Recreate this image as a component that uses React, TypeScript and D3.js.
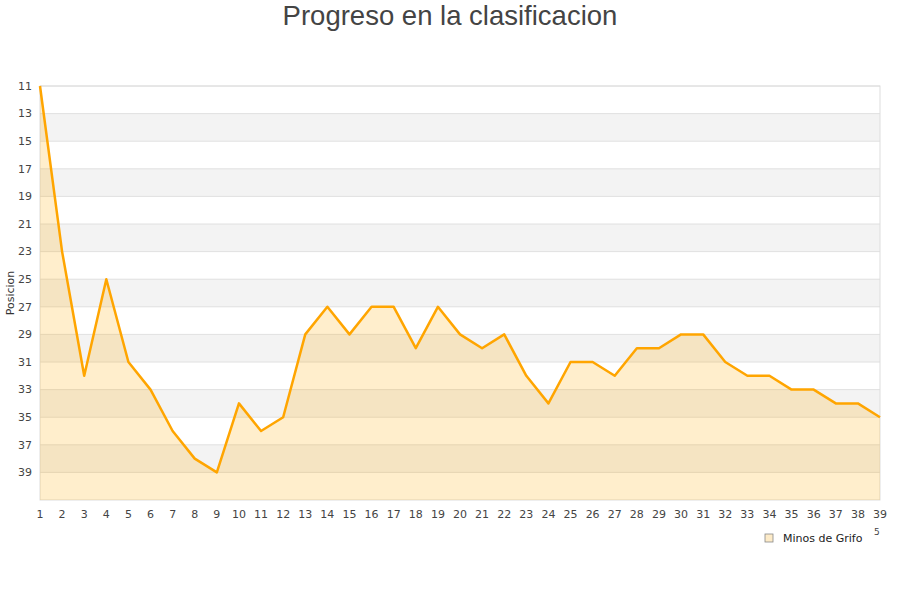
import React from 'react';
import { scaleLinear, line, area, range } from 'd3';

const jornadas = range(1, 40);
const posiciones = [
  11, 23, 32, 25, 31, 33, 36, 38, 39, 34, 36, 35, 29, 27, 29, 27, 27, 30, 27, 29,
  30, 29, 32, 34, 31, 31, 32, 30, 30, 29, 29, 31, 32, 32, 33, 33, 34, 34, 35,
];
const yTicks = [11, 13, 15, 17, 19, 21, 23, 25, 27, 29, 31, 33, 35, 37, 39];
const titulo = 'Progreso en la clasificacion';
const serie = 'Minos de Grifo';

const W = 900;
const H = 600;
const m = { left: 40, right: 880, top: 86, bottom: 500 };

export default function App() {
  const x = scaleLinear().domain([1, 39]).range([m.left, m.right]);
  const y = scaleLinear().domain([11, 41]).range([m.top, m.bottom]);

  const pts = posiciones.map((p, i) => [jornadas[i], p] as [number, number]);
  const linea = line<[number, number]>()
    .x(d => x(d[0]))
    .y(d => y(d[1]));
  const relleno = area<[number, number]>()
    .x(d => x(d[0]))
    .y0(y(41))
    .y1(d => y(d[1]));

  const font = 'DejaVu Sans, sans-serif';

  return (
    <svg
      width={W}
      height={H}
      style={{ position: 'absolute', left: 0, top: 0, background: '#fff' }}
    >
      <text
        x={W / 2}
        y={25}
        textAnchor="middle"
        fontFamily="Liberation Sans, Arial, sans-serif"
        fontSize={27.5}
        fill="#444"
      >
        {titulo}
      </text>

      {/* bandas alternas */}
      {yTicks.map((t, i) =>
        i % 2 === 1 ? (
          <rect
            key={'b' + t}
            x={m.left}
            y={y(t)}
            width={m.right - m.left}
            height={y(t + 2) - y(t)}
            fill="#f3f3f3"
          />
        ) : null
      )}
      {yTicks.map(t => (
        <line
          key={'g' + t}
          x1={m.left}
          x2={m.right}
          y1={y(t)}
          y2={y(t)}
          stroke="#e0e0e0"
          strokeWidth={1}
        />
      ))}
      <rect
        x={m.left}
        y={m.top}
        width={m.right - m.left}
        height={m.bottom - m.top}
        fill="none"
        stroke="#dddddd"
      />

      <path d={relleno(pts) ?? ''} fill="rgba(255,170,0,0.2)" />
      <path
        d={linea(pts) ?? ''}
        fill="none"
        stroke="#FFA500"
        strokeWidth={2.5}
        strokeLinejoin="round"
      />

      {yTicks.map(t => (
        <text
          key={'y' + t}
          x={32}
          y={y(t)}
          dy="0.35em"
          textAnchor="end"
          fontFamily={font}
          fontSize={11}
          fill="#444"
        >
          {t}
        </text>
      ))}
      {jornadas.map(j => (
        <text
          key={'x' + j}
          x={x(j)}
          y={518}
          textAnchor="middle"
          fontFamily={font}
          fontSize={11}
          fill="#444"
        >
          {j}
        </text>
      ))}

      <text
        transform={`translate(14,${(m.top + m.bottom) / 2}) rotate(-90)`}
        textAnchor="middle"
        fontFamily={font}
        fontSize={11}
        fill="#333"
      >
        Posicion
      </text>

      <text x={874} y={535} fontFamily={font} fontSize={9} fill="#444">
        5
      </text>

      <rect x={765} y={534} width={8} height={8} fill="#fdebc8" stroke="#888" strokeWidth={0.8} />
      <text x={783} y={541.5} fontFamily={font} fontSize={11} fill="#222">
        {serie}
      </text>
    </svg>
  );
}
